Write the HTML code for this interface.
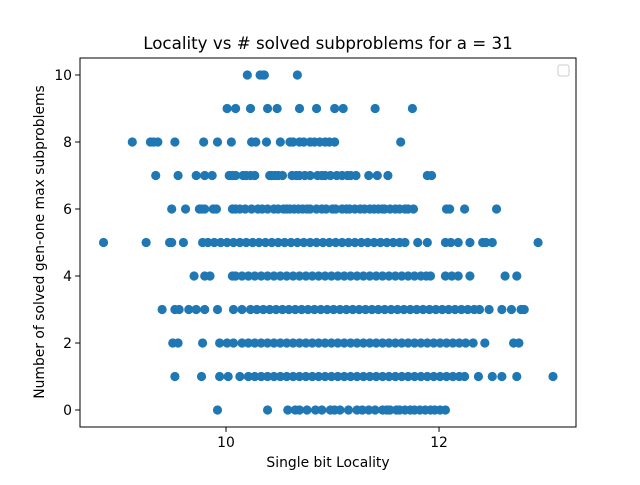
<!DOCTYPE html>
<html><head><meta charset="utf-8"><style>
body{margin:0;background:#fff;}
svg text{font-family:"DejaVu Sans","Liberation Sans",sans-serif;fill:#000;}
</style></head><body>
<svg id="chart" width="640" height="480" viewBox="0 0 640 480" xmlns="http://www.w3.org/2000/svg">
<rect width="640" height="480" fill="#fff"/>
<text x="328" y="49" font-size="16.7" text-anchor="middle">Locality vs # solved subproblems for a = 31</text>
<g id="points"></g>
<rect x="80" y="58" width="496" height="369" fill="none" stroke="#000" stroke-width="1"/>
<g id="xticks"></g>
<g id="yticks"></g>
<text x="328" y="467" font-size="13.9" text-anchor="middle">Single bit Locality</text>
<text transform="translate(44,242) rotate(-90)" font-size="13.9" text-anchor="middle">Number of solved gen-one max subproblems</text>
<rect x="558" y="65" width="11" height="11" rx="2" fill="#fff" stroke="#ccc"/>
</svg>
<script>
const xTicks=[10,12];
const yTicks=[0,2,4,6,8,10];
const xRow10=[10.20,10.32,10.35,10.36,10.67];
const xRow9=[10.01,10.09,10.23,10.39,10.48,10.69,10.85,11.02,11.10,11.40,11.75];
const xRow8=[9.12,9.29,9.32,9.36,9.52,9.79,9.92,10.05,10.24,10.28,10.38,10.51,10.60,10.63,10.69,10.73,10.79,10.83,10.88,10.93,10.97,11.02,11.64];
const xRow7=[9.34,9.55,9.72,9.80,9.87,10.03,10.06,10.09,10.16,10.19,10.23,10.27,10.41,10.43,10.46,10.49,10.53,10.62,10.66,10.69,10.74,10.79,10.86,10.90,10.93,10.98,11.04,11.09,11.14,11.17,11.22,11.34,11.42,11.52,11.89,11.93];
const xRow6=[9.49,9.62,9.75,9.77,9.80,9.88,9.91,10.06,10.09,10.13,10.18,10.24,10.30,10.34,10.39,10.45,10.49,10.54,10.57,10.60,10.64,10.68,10.72,10.76,10.79,10.85,10.90,10.94,11.00,11.03,11.09,11.13,11.16,11.21,11.26,11.30,11.35,11.39,11.43,11.47,11.49,11.54,11.59,11.63,11.68,11.71,11.76,12.07,12.10,12.24,12.54];
const xRow5=[8.85,9.25,9.47,9.49,9.60,9.78,9.83,9.89,9.95,10.01,10.07,10.13,10.19,10.25,10.31,10.37,10.43,10.49,10.55,10.61,10.67,10.73,10.79,10.85,10.91,10.97,11.03,11.09,11.15,11.21,11.27,11.33,11.39,11.45,11.51,11.57,11.63,11.68,11.80,11.89,12.06,12.11,12.18,12.29,12.41,12.44,12.50,12.93];
const xRow4=[9.70,9.80,9.85,10.06,10.09,10.15,10.21,10.27,10.33,10.39,10.45,10.51,10.57,10.63,10.69,10.75,10.81,10.87,10.93,10.99,11.05,11.11,11.17,11.23,11.29,11.35,11.41,11.47,11.53,11.59,11.65,11.71,11.77,11.83,11.88,11.92,12.06,12.12,12.18,12.29,12.62,12.73];
const xRow3=[9.40,9.52,9.56,9.65,9.72,9.80,9.92,10.07,10.15,10.23,10.29,10.35,10.41,10.47,10.53,10.59,10.65,10.71,10.77,10.83,10.89,10.95,11.01,11.07,11.13,11.19,11.25,11.31,11.37,11.43,11.49,11.55,11.61,11.67,11.73,11.79,11.85,11.91,11.97,12.03,12.09,12.15,12.21,12.27,12.33,12.38,12.47,12.59,12.68,12.77,12.80];
const xRow2=[9.50,9.55,9.78,9.94,10.01,10.07,10.15,10.21,10.27,10.33,10.39,10.45,10.51,10.57,10.63,10.69,10.75,10.81,10.87,10.93,10.99,11.05,11.11,11.17,11.23,11.29,11.35,11.41,11.47,11.53,11.59,11.65,11.71,11.77,11.83,11.89,11.95,12.01,12.07,12.13,12.19,12.25,12.32,12.43,12.70,12.75];
const xRow1=[9.52,9.77,9.94,10.02,10.13,10.21,10.27,10.33,10.39,10.45,10.51,10.57,10.63,10.69,10.75,10.81,10.87,10.93,10.99,11.05,11.11,11.17,11.23,11.29,11.35,11.41,11.47,11.53,11.59,11.65,11.71,11.77,11.83,11.89,11.95,12.01,12.07,12.13,12.19,12.24,12.37,12.50,12.59,12.73,13.07];
const xRow0=[9.92,10.39,10.58,10.65,10.69,10.76,10.84,10.90,10.98,11.02,11.07,11.15,11.23,11.28,11.34,11.40,11.47,11.51,11.54,11.60,11.63,11.68,11.73,11.77,11.82,11.87,11.92,11.96,12.01,12.06];
const rowLevels=[0,1,2,3,4,5,6,7,8,9,10];
const rowXs=[xRow0,xRow1,xRow2,xRow3,xRow4,xRow5,xRow6,xRow7,xRow8,xRow9,xRow10];

const NS="http://www.w3.org/2000/svg";
const X0=80,X1=576,Y0=427,Y1=58;
const xMin=8.629,xMax=13.286,yMin=-0.507,yMax=10.507;
function sx(v){return X0+(v-xMin)/(xMax-xMin)*(X1-X0);}
function sy(v){return Y0-(v-yMin)/(yMax-yMin)*(Y0-Y1);}

const pg=document.getElementById('points');
rowLevels.forEach((lvl,i)=>{
  rowXs[i].forEach(xv=>{
    const c=document.createElementNS(NS,'circle');
    c.setAttribute('cx',sx(xv));c.setAttribute('cy',sy(lvl));c.setAttribute('r',4.6);
    c.setAttribute('fill','#1f77b4');
    
    
    pg.appendChild(c);
  });
});
const xg=document.getElementById('xticks');
xTicks.forEach(t=>{
  const l=document.createElementNS(NS,'line');
  l.setAttribute('x1',sx(t));l.setAttribute('x2',sx(t));l.setAttribute('y1',Y0);l.setAttribute('y2',Y0+4.9);l.setAttribute('stroke','#000');
  
  
  xg.appendChild(l);
  const tx=document.createElementNS(NS,'text');
  tx.setAttribute('x',sx(t));tx.setAttribute('y',Y0+20);tx.setAttribute('font-size','13.9');tx.setAttribute('text-anchor','middle');
  tx.textContent=t;
  
  
  xg.appendChild(tx);
});
const yg=document.getElementById('yticks');
yTicks.forEach(t=>{
  const l=document.createElementNS(NS,'line');
  l.setAttribute('x1',X0-4.9);l.setAttribute('x2',X0);l.setAttribute('y1',sy(t));l.setAttribute('y2',sy(t));l.setAttribute('stroke','#000');
  
  
  yg.appendChild(l);
  const tx=document.createElementNS(NS,'text');
  tx.setAttribute('x',X0-8);tx.setAttribute('y',sy(t)+5);tx.setAttribute('font-size','13.9');tx.setAttribute('text-anchor','end');
  tx.textContent=t;
  
  
  yg.appendChild(tx);
});
</script>
</body></html>
